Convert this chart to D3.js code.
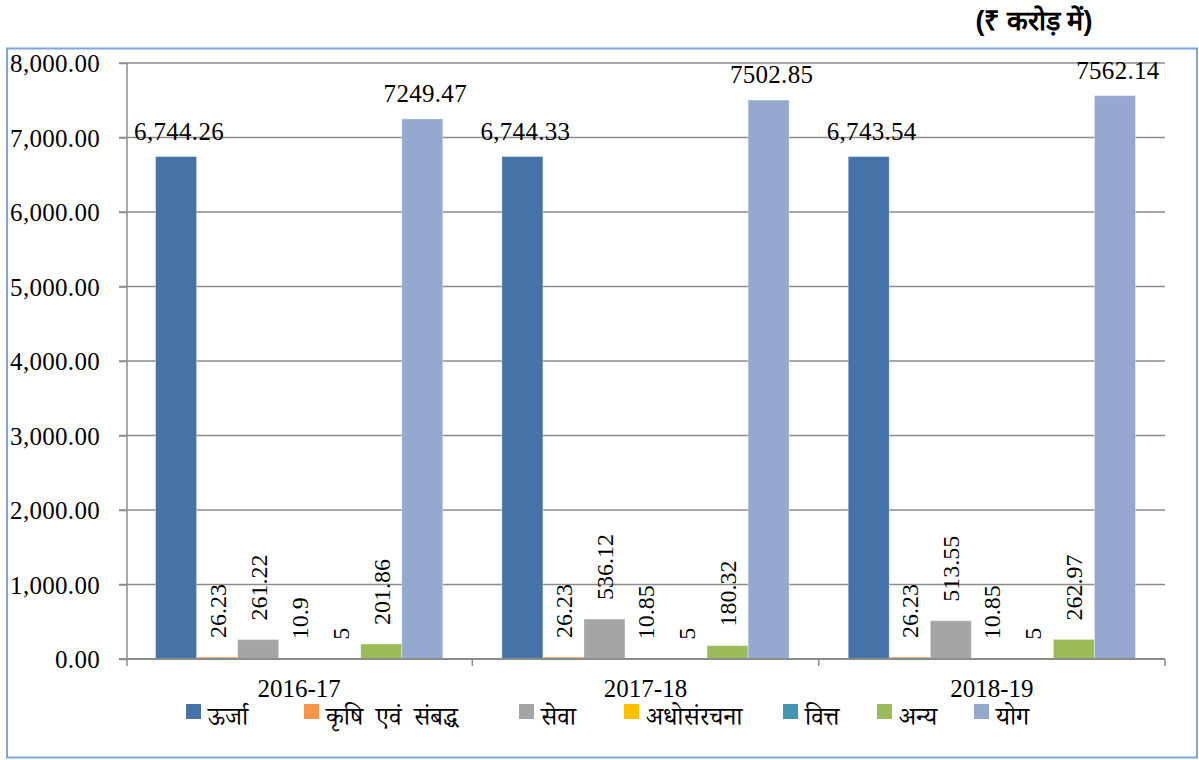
<!DOCTYPE html>
<html>
<head>
<meta charset="utf-8">
<script src="https://cdn.jsdelivr.net/npm/d3@7"></script>
<style>
  html, body { margin: 0; padding: 0; background: #fff; }
  svg text { font-family: "Liberation Serif", "Times New Roman", "Noto Serif Devanagari", serif; }
</style>
</head>
<body>
<svg id="chart" width="1199" height="760"></svg>
<script>
const years = ["2016-17", "2017-18", "2018-19"];
const seriesNames = ["ऊर्जा", "कृषि  एवं  संबद्ध", "सेवा", "अधोसंरचना", "वित्त", "अन्य", "योग"];
const seriesColors = ["#4572a7", "#f79646", "#a5a5a5", "#ffc000", "#4198af", "#9bbb59", "#95a9d0"];
const urja   = [6744.26, 6744.33, 6743.54];
const krishi = [26.23, 26.23, 26.23];
const seva   = [261.22, 536.12, 513.55];
const adho   = [10.9, 10.85, 10.85];
const vitt   = [5, 5, 5];
const anya   = [201.86, 180.32, 262.97];
const yog    = [7249.47, 7502.85, 7562.14];
const labelTexts = [
  ["6,744.26", "6,744.33", "6,743.54"],
  ["26.23", "26.23", "26.23"],
  ["261.22", "536.12", "513.55"],
  ["10.9", "10.85", "10.85"],
  ["5", "5", "5"],
  ["201.86", "180.32", "262.97"],
  ["7249.47", "7502.85", "7562.14"]
];
const rotatedSeries = [false, true, true, true, true, true, false];
const yTicks = [0, 1000, 2000, 3000, 4000, 5000, 6000, 7000, 8000];
const title = "(₹ करोड़ में)";

const seriesValues = [urja, krishi, seva, adho, vitt, anya, yog];
const FS = "25px";

const svg = d3.select("#chart");

// outer frame
svg.append("rect").attr("x", 7).attr("y", 48.5).attr("width", 1190).attr("height", 709)
  .attr("fill", "none").attr("stroke", "#7ea6d8").attr("stroke-width", 2);

// title
svg.append("text").attr("x", 1034).attr("y", 30).attr("text-anchor", "middle")
  .style("font-family", "'Liberation Sans', Arial, sans-serif")
  .style("font-weight", "bold").style("font-size", "27px").text(title);

const x0 = d3.scaleBand().domain(years).range([126, 1165]).paddingInner(0).paddingOuter(0);
const x1 = d3.scaleBand().domain(d3.range(seriesNames.length)).range([0, x0.bandwidth()])
  .paddingInner(0).paddingOuter(0.72);
const y = d3.scaleLinear().domain([0, 8000]).range([659, 63]);

// gridlines
svg.append("g").selectAll("line").data(yTicks.slice(1)).join("line")
  .attr("x1", 119).attr("x2", 1165)
  .attr("y1", d => y(d)).attr("y2", d => y(d))
  .attr("stroke", "#8c8c8c").attr("stroke-width", 1.5);

// y axis
const yAxis = d3.axisLeft(y).tickValues(yTicks).tickSize(8).tickPadding(19)
  .tickFormat(d3.format(",.2f"));
const gy = svg.append("g").attr("transform", "translate(127,0)").call(yAxis)
  .attr("font-family", null).attr("font-size", null);
gy.select(".domain").remove();
gy.selectAll(".tick line").attr("stroke", "#8c8c8c").attr("stroke-width", 1.5);
gy.selectAll(".tick text").style("font-size", FS).attr("fill", "#000")
  .style("letter-spacing", "0.3px").attr("dy", "0.34em");
svg.append("line").attr("x1", 127).attr("x2", 127).attr("y1", y(8000)).attr("y2", 666)
  .attr("stroke", "#8c8c8c").attr("stroke-width", 1.5);

// bars
const groups = svg.append("g").selectAll("g").data(years).join("g")
  .attr("transform", d => `translate(${x0(d)},0)`);

groups.each(function(yr, gi) {
  const g = d3.select(this);
  seriesValues.forEach((vals, si) => {
    const v = vals[gi];
    g.append("rect")
      .attr("x", x1(si)).attr("width", x1.bandwidth())
      .attr("y", y(v)).attr("height", y(0) - y(v))
      .attr("fill", seriesColors[si])
      .attr("stroke", "#ffffff").attr("stroke-opacity", 0.35).attr("stroke-width", 1);
    const cx = x1(si) + x1.bandwidth() / 2;
    if (rotatedSeries[si]) {
      g.append("text")
        .attr("transform", `translate(${cx + 8.5},${y(v) - 19}) rotate(-90)`)
        .attr("text-anchor", "start")
        .style("font-size", "24px").attr("fill", "#000")
        .text(labelTexts[si][gi]);
    } else {
      g.append("text")
        .attr("x", cx + 3).attr("y", y(v) - 17)
        .attr("text-anchor", "middle")
        .style("font-size", FS).style("letter-spacing", "0.3px").attr("fill", "#000")
        .text(labelTexts[si][gi]);
    }
  });
});

// x axis
svg.append("line").attr("x1", 119).attr("x2", 1165).attr("y1", y(0)).attr("y2", y(0))
  .attr("stroke", "#8c8c8c").attr("stroke-width", 2);
const sepTicks = years.map(d => x0(d) + x0.bandwidth());
svg.append("g").selectAll("line").data(sepTicks).join("line")
  .attr("x1", d => d).attr("x2", d => d).attr("y1", y(0)).attr("y2", 666)
  .attr("stroke", "#8c8c8c").attr("stroke-width", 1.5);
svg.append("g").selectAll("text").data(years).join("text")
  .attr("x", d => x0(d) + x0.bandwidth() / 2).attr("y", 697)
  .attr("text-anchor", "middle").style("font-size", FS).attr("fill", "#000")
  .text(d => d);

// legend
const legendX = [186, 304, 519, 624, 783, 877, 974];
const lg = svg.append("g").selectAll("g").data(seriesNames).join("g")
  .attr("transform", (d, i) => `translate(${legendX[i]},704)`);
lg.append("rect").attr("width", 15).attr("height", 15).attr("fill", (d, i) => seriesColors[i]);
lg.append("text").attr("x", 22).attr("y", 21).style("font-size", "25px").attr("fill", "#000")
  .style("white-space", "pre").attr("xml:space", "preserve")
  .text(d => d);
</script>
</body>
</html>
